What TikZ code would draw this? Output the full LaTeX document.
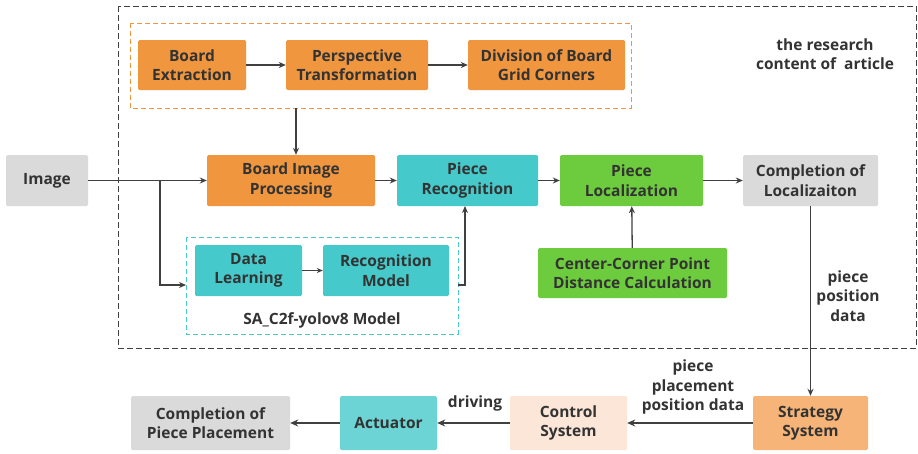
\documentclass[tikz,border=0pt]{standalone}
\usepackage{fontspec}
\setmainfont{Open Sans}
\usetikzlibrary{arrows.meta,positioning}

\definecolor{txt}{HTML}{333333}
\definecolor{boxorange}{HTML}{F0963F}
\definecolor{boxcyan}{HTML}{45C9CA}
\definecolor{boxgreen}{HTML}{6DCC3D}
\definecolor{boxgray}{HTML}{DADADA}
\definecolor{stratorange}{HTML}{F6B478}
\definecolor{ctrlpeach}{HTML}{FBE6D8}
\definecolor{actcyan}{HTML}{6CD4D4}
\definecolor{linegray}{HTML}{404040}

\tikzset{
  blk/.style={rounded corners=1.5pt, inner sep=0pt, align=center,
    font=\fontsize{15.5}{19.5}\selectfont\bfseries, text=txt},
  conn/.style={draw=linegray, line width=1.3pt, -{Stealth[length=7pt,width=6pt]}},
  heavy/.style={conn, line width=2.4pt, -{Stealth[length=8pt,width=7pt]}},
  lbl/.style={font=\fontsize{15.5}{19.5}\selectfont\bfseries, text=txt, align=center}
}

\begin{document}
\begin{tikzpicture}[x=1pt,y=-1pt]
\useasboundingbox (0,0) rectangle (918,453);
\fill[white] (0,0) rectangle (918,453);

% research scope frame
\draw[linegray, line width=0.9pt, dash pattern=on 6pt off 3pt] (118,6) rectangle (916,348);
\node[lbl] (scope) at (825,54) {the research\\content of\ \ article};

% board preparation group
\draw[boxorange, line width=0.9pt, dash pattern=on 5pt off 3pt] (130,23) rectangle (631,108);
\node[blk, fill=boxorange, minimum width=108pt, minimum height=50pt] (be) at (192,65) {Board\\Extraction};
\node[blk, fill=boxorange, minimum width=142pt, minimum height=50pt] (pt) at (357,65) {Perspective\\Transformation};
\node[blk, fill=boxorange, minimum width=157pt, minimum height=50pt] (dg) at (546.5,65) {Division of Board\\Grid Corners};
\coordinate (grpbot) at (296,108);

% main row
\node[blk, fill=boxgray, minimum width=82pt, minimum height=51pt] (img) at (47,180.5) {Image};
\node[blk, fill=boxorange, minimum width=168pt, minimum height=51pt] (bip) at (291,180.5) {Board Image\\Processing};
\node[blk, fill=boxcyan, minimum width=141pt, minimum height=51pt] (pr) at (467.5,180.5) {Piece\\Recognition};
\node[blk, fill=boxgreen, minimum width=143pt, minimum height=51pt] (pl) at (631.5,180.5) {Piece\\Localization};
\node[blk, fill=boxgray, minimum width=135pt, minimum height=51pt] (cl) at (810.5,180.5) {Completion of\\Localizaiton};

% recognition model group
\draw[boxcyan, line width=0.9pt, dash pattern=on 5pt off 3pt] (186,237) rectangle (458,334);
\node[blk, fill=boxcyan, minimum width=107pt, minimum height=51pt] (dl) at (248.5,270.5) {Data\\Learning};
\node[blk, fill=boxcyan, minimum width=126pt, minimum height=51pt] (rm) at (386,270.5) {Recognition\\Model};
\node[lbl] (sa) at (322,320) {SA\_C2f-yolov8 Model};

\node[blk, fill=boxgreen, minimum width=189pt, minimum height=50pt] (cc) at (632.5,273) {Center-Corner Point\\Distance Calculation};

% bottom row
\node[blk, fill=stratorange, minimum width=115pt, minimum height=54pt] (ss) at (810.5,423) {Strategy\\System};
\node[blk, fill=ctrlpeach, minimum width=117pt, minimum height=54pt] (cs) at (568.5,423) {Control\\System};
\node[blk, fill=actcyan, minimum width=97pt, minimum height=54pt] (ac) at (388.5,423) {Actuator};
\node[blk, fill=boxgray, minimum width=159pt, minimum height=54pt] (cp) at (210.5,423) {Completion of\\Piece Placement};

% connectors
\draw[conn] (be) -- (pt);
\draw[conn] (pt) -- (dg);
\draw[conn] (grpbot) -- (grpbot |- bip.north);
\draw[conn, line width=1.7pt] (img) -- (bip);
\coordinate (split) at (160,180.5);
\draw[conn] (split) |- (186,285);
\draw[conn] (bip) -- (pr);
\draw[conn] (pr) -- (pl);
\draw[conn] (pl) -- (cl);
\draw[conn, -{Stealth[length=6pt,width=5pt]}] (dl) -- (rm);
\coordinate (rmout) at (458,285);
\draw[conn] (rmout) -- (465,285) -- (465,206);
\draw[conn] (cc) -- (pl);
\draw[conn] (cl) -- (ss);
\node[lbl] (ppd) at (848,296) {piece\\position\\data};
\draw[heavy] (ss) -- (cs);
\node[lbl] (ppp) at (693,387) {piece\\placement\\position data};
\draw[heavy] (cs) -- (ac);
\node[lbl] (drv) at (475,403) {driving};
\draw[heavy] (ac) -- (cp);
\end{tikzpicture}
\end{document}
